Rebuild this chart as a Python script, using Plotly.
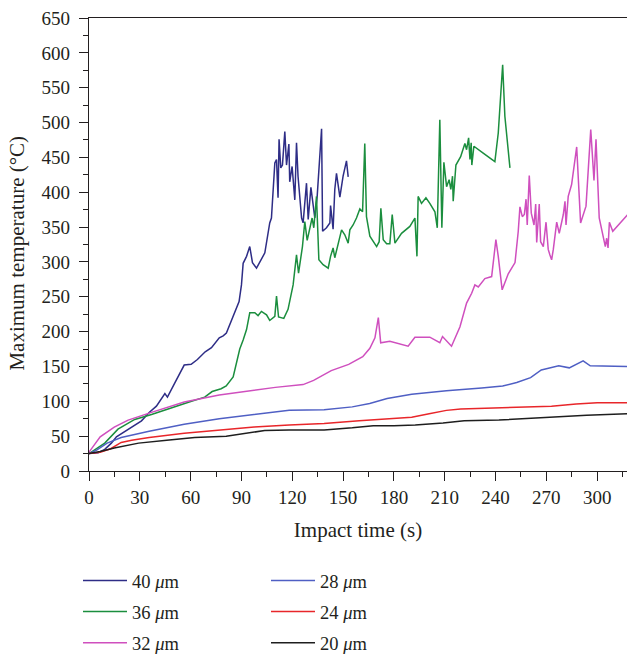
import plotly.graph_objects as go

# ---------------- data ----------------
t40 = [0, 5.3, 9.3, 13.2, 16.2, 23, 31, 35.5, 39.8, 44.8, 46.3, 50.6, 56.2, 60.3, 64,
       68.6, 72.3, 76.9, 79.2, 81.1, 84.1, 87.1, 88.6, 90, 91, 93, 94.9, 96.5, 98.9, 103.8,
       106.7, 107.7, 109.7, 110.7, 111.6, 112.2, 113.2, 114.2, 115.6, 116.6, 118, 118.5,
       119.9, 121.5, 122.5, 123.4, 125.5, 126.4, 128.4, 129.4, 131, 133.3, 134.7, 137.3,
       137.9, 140.2, 142.2, 142.6, 144.1, 145.1, 146.1, 148.1, 150, 152, 153]
T40 = [25, 26, 31, 40, 49, 60, 72, 84, 93, 111, 106, 126, 152, 153, 160,
       171, 177, 191, 194, 198, 215, 232, 243, 267, 298, 308, 322, 299, 291, 313,
       356, 363, 442, 447, 392, 476, 435, 439, 487, 439, 469, 415,
       437, 389, 471, 423, 363, 356, 413, 361, 407, 363, 394, 491,
       344, 349, 356, 381, 347, 404, 427, 393, 423, 445, 422]

t36 = [0, 9.3, 17.1, 27, 36.9, 48.7, 60.5, 68.3, 72.7, 78, 81, 85.1, 89, 91, 93,
       94.9, 97.9, 99.8, 101.8, 104.8, 106.7, 109.7, 110.7, 111.9, 115, 117.5, 120.5,
       122.5, 123.7, 126, 127.4, 128.8, 130.4, 131.7, 132.7, 134.3, 135.7, 138.2, 141.2,
       142.6, 144.1, 145.1, 149.1, 151, 153, 154, 155.9, 157.9, 159.9, 161.5, 162.8, 163.8,
       165.8, 169.8, 171.3, 172.3, 173.7, 175.7, 177.6, 179, 180.6, 184.5, 189.4, 192.4,
       193.6, 194.3, 196.3, 198.9, 201.2, 204.2, 205.6, 207.1, 208.3, 209.5, 211.1, 212.6,
       213.6, 214.6, 215, 216.6, 219.4, 221.9, 222.9, 224.1, 224.9, 225.6, 226, 227.2,
       232.7, 239.6, 241.6, 243, 244.2, 245.5, 248.5]
T36 = [25, 40, 60, 74, 81, 91, 100, 106, 114, 118, 122, 135, 175, 188, 203,
       227, 227, 223, 229, 224, 216, 222, 251, 221, 219, 232, 267,
       310, 284, 322, 358, 331, 351, 363, 349, 394, 303, 296, 291,
       308, 320, 306, 346, 339, 327, 346, 353, 363, 376, 372, 470, 365,
       337, 322, 329, 377, 332, 326, 326, 368, 327, 341, 351, 363,
       308, 394, 384, 392, 384, 372, 349, 504, 349, 443, 408, 418,
       404, 423, 387, 439, 451, 470, 461, 478, 447, 471, 439, 466,
       456, 444, 485, 537, 583, 509, 435]

t32 = [0, 6.6, 14.9, 23.1, 35.5, 56.2, 76.9, 89.3, 110, 126.4, 132.6, 143, 153.3, 161.6,
       165.8, 168.8, 170.8, 172.2, 177.6, 188.4, 192.4, 201.2, 207.1, 208.7, 214, 219,
       222.9, 225.9, 227.8, 229.8, 233.7, 237.7, 240.2, 241.6, 243.9, 247.5, 251.5, 253.4,
       254.4, 255.8, 257, 258, 258.7, 259.9, 261.1, 262.7, 263.7, 264.3, 265.8, 266.6,
       268.2, 269.8, 271.1, 272.1, 273.1, 274.1, 276.1, 277.6, 279, 280, 281, 281.6, 282.9,
       284.9, 287.9, 290.2, 293.4, 296.2, 298.1, 299.3, 301.2, 303.6, 304.8, 305.6, 306.4,
       307.2, 309.2, 318]
T32 = [27, 49, 63, 73, 83, 99, 109, 113, 120, 124, 130, 144, 153, 164,
       176, 191, 220, 184, 186, 179, 192, 192, 184, 193, 179, 207,
       241, 255, 267, 264, 276, 279, 332, 308, 260, 283, 299, 344,
       379, 365, 368, 390, 353, 424, 370, 353, 383, 328, 383, 329,
       322, 357, 318, 310, 303, 318, 357, 341, 357, 368, 387, 353, 394,
       411, 465, 356, 380, 490, 417, 476, 363, 332, 322, 334, 320,
       357, 344, 368]

t28 = [0, 4.5, 10.7, 19, 35.5, 56.2, 76.9, 97.5, 118.2, 138.8, 155.4, 165.7, 176, 190.5,
       211, 231.8, 244.2, 252.5, 260.7, 267, 277.3, 283.5, 291.7, 295.9, 318]
T28 = [25, 30, 40, 48, 57, 67, 75, 81, 87, 88, 92, 97, 104, 110,
       115, 119, 122, 127, 134, 145, 151, 148, 158, 151, 150]

t24 = [0, 6.6, 12.8, 19, 25.2, 35.5, 56.2, 76.9, 97.5, 118.2, 138.8, 159.5, 180, 190.5,
       200.8, 211, 219.4, 231.8, 252.5, 273, 287.6, 300, 318]
T24 = [25, 27, 32, 41, 44, 48, 54, 59, 63, 66, 68, 72, 75, 77,
       82, 87, 89, 90, 91, 93, 96, 98, 98]

t20 = [0, 6.6, 14.9, 29.3, 45.9, 62.4, 81, 91.3, 103.7, 118.2, 138.8, 155.4, 167.8, 180,
       192.6, 209, 221.5, 242, 262.8, 275, 293.8, 318]
T20 = [25, 28, 33, 40, 44, 48, 50, 54, 58, 59, 59, 62, 65, 65,
       66, 69, 72, 73, 76, 78, 80, 82]

labels = ["40", "36", "32", "28", "24", "20"]
xticks = [0, 30, 60, 90, 120, 150, 180, 210, 240, 270, 300]
yticks = list(range(0, 651, 50))

series = [(t40, T40), (t36, T36), (t32, T32), (t28, T28), (t24, T24), (t20, T20)]
for a, b in series:
    assert len(a) == len(b), (len(a), len(b))

colors = ["#2e2d86", "#1b8e3e", "#cf4fbe", "#4f5fc4", "#e8262a", "#1e1e1e"]
legend_ids = ["legend", "legend", "legend", "legend2", "legend2", "legend2"]

FONT = "Liberation Serif"
TXT = "#231f20"

fig = go.Figure()
for (xs, ys), lab, col, lg in zip(series, labels, colors, legend_ids):
    fig.add_trace(go.Scatter(
        x=xs, y=ys, mode="lines", name=f"{lab} <i>\u03bc</i>m",
        line=dict(color=col, width=1.5), legend=lg, legendgroup=lab,
    ))

axis_common = dict(
    showgrid=False, zeroline=False, showline=True, linecolor=TXT, linewidth=1.2,
    ticks="outside", ticklen=9, tickwidth=1.2, tickcolor=TXT,
    tickfont=dict(family=FONT, size=19, color=TXT),
)

legend_common = dict(
    xref="container", yref="container", y=1 - 562 / 657,
    xanchor="left", yanchor="top", orientation="v",
    font=dict(family=FONT, size=18.5, color=TXT), tracegroupgap=4, itemwidth=44,
    bgcolor="rgba(0,0,0,0)",
)

fig.update_layout(
    width=627, height=657,
    margin=dict(l=89, r=0, t=18, b=186, autoexpand=False),
    paper_bgcolor="white", plot_bgcolor="white",
    font=dict(family=FONT, color=TXT),
    xaxis=dict(
        range=[0, 317.6], tickvals=xticks, mirror=True, tickangle=0,
        minor=dict(dtick=15, tick0=0, ticks="outside", ticklen=5, tickcolor=TXT, tickwidth=1.2),
        title=dict(text="Impact time (s)", font=dict(family=FONT, size=21, color=TXT)),
        **axis_common,
    ),
    yaxis=dict(
        range=[0, 650], tickvals=yticks, ticklabelstandoff=5,
        minor=dict(dtick=25, tick0=0, ticks="outside", ticklen=5, tickcolor=TXT, tickwidth=1.2),
        **axis_common,
    ),
    annotations=[dict(
        text="Maximum temperature (\u00b0C)", xref="paper", yref="paper",
        x=(17 - 89) / 538, y=0.48, xanchor="center", yanchor="middle",
        textangle=-90, showarrow=False, font=dict(family=FONT, size=21, color=TXT),
    )],
    legend=dict(x=78 / 627, **legend_common),
    legend2=dict(x=266 / 627, **legend_common),
    showlegend=True,
)

fig.write_html("out.html", config={"displayModeBar": False},
               post_script="document.body.style.margin='0px';")
